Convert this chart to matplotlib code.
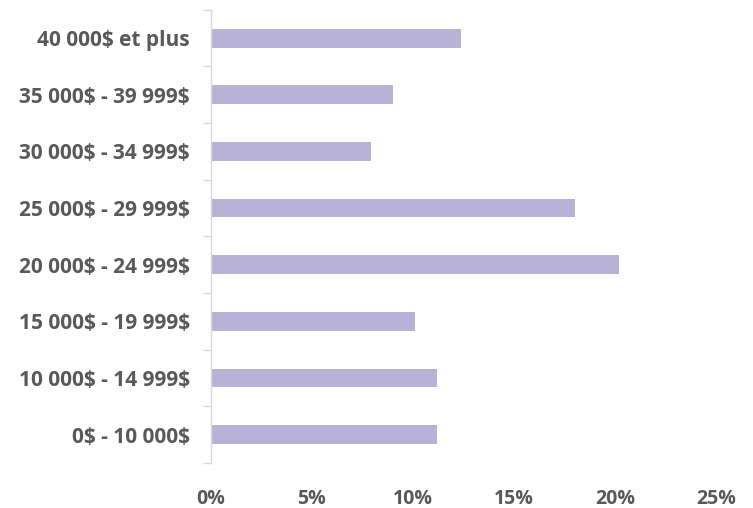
import matplotlib.pyplot as plt
from matplotlib.ticker import FixedLocator, PercentFormatter

categories = ['0$ - 10 000$', '10 000$ - 14 999$', '15 000$ - 19 999$',
              '20 000$ - 24 999$', '25 000$ - 29 999$', '30 000$ - 34 999$',
              '35 000$ - 39 999$', '40 000$ et plus']
values = [11.2, 11.2, 10.1, 20.2, 18.0, 7.9, 9.0, 12.4]
xticks = [0, 5, 10, 15, 20, 25]

plt.rcParams['font.family'] = ['Open Sans', 'DejaVu Sans']
plt.rcParams['text.parse_math'] = False

fig = plt.figure(figsize=(7.53, 5.08), dpi=100)
ax = fig.add_axes([0.280, 0.0886, 0.671, 0.892])

ypos = range(len(categories))
ax.barh(ypos, values, height=0.33, color='#b8b2d6')

ax.set_xlim(0, 25)
ax.set_ylim(-0.5, len(categories) - 0.5)
ax.set_xticks(xticks)
ax.xaxis.set_major_formatter(PercentFormatter(decimals=0))
ax.set_yticks(list(ypos))
ax.set_yticklabels(categories)
ax.yaxis.set_minor_locator(FixedLocator([i - 0.5 for i in range(len(categories) + 1)]))

for s in ['top', 'right', 'bottom']:
    ax.spines[s].set_visible(False)
ax.spines['left'].set_color('#d9d9d9')
ax.spines['left'].set_linewidth(1.0)

ax.tick_params(axis='y', which='major', length=0, pad=15, labelsize=15, labelcolor='#595959')
ax.tick_params(axis='y', which='minor', length=6, color='#d9d9d9', width=1.0)
ax.tick_params(axis='x', length=0, pad=19, labelsize=14, labelcolor='#595959')
for lab in ax.get_xticklabels() + ax.get_yticklabels():
    lab.set_fontweight('bold')

fig.savefig('out.png')
